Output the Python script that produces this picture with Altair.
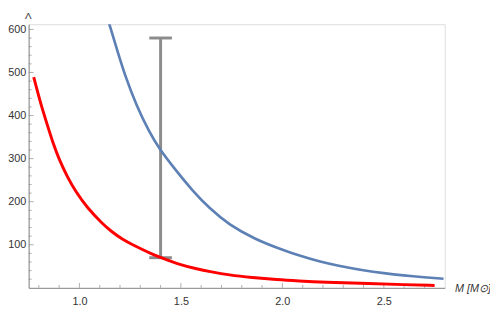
import altair as alt
import pandas as pd

# ---- data ----
red_m = [0.775, 0.806, 0.838, 0.870, 0.901, 0.94, 0.981, 1.04, 1.115, 1.16,
         1.21, 1.258, 1.306, 1.35, 1.401, 1.48, 1.576, 1.65, 1.735, 1.85,
         1.974, 2.08, 2.2, 2.436, 2.6, 2.75]
red_l = [489, 433, 384, 336, 297, 258, 224, 185, 148, 130,
         113, 101, 90, 80, 70, 56, 44, 37, 30, 24,
         19, 16, 13, 10, 7.3, 5.5]

blue_m = [1.147, 1.186, 1.226, 1.282, 1.345, 1.393, 1.473, 1.56, 1.64, 1.735,
          1.87, 1.974, 2.08, 2.19, 2.277, 2.404, 2.5, 2.595, 2.7, 2.794]
blue_l = [613, 552, 491, 422, 361, 323, 274, 224, 185, 147,
          112, 93, 75, 60, 51, 40, 34, 29, 24.5, 21]

bar_m = [1.4]
bar_lo = [70]
bar_hi = [580]

x_major = [1.0, 1.5, 2.0, 2.5]
x_minor = [0.8, 0.9, 1.1, 1.2, 1.3, 1.4, 1.6, 1.7, 1.8, 1.9,
           2.1, 2.2, 2.3, 2.4, 2.6, 2.7]
y_major = [100, 200, 300, 400, 500, 600]
y_minor = [v for v in range(20, 601, 20) if v % 100 != 0]

X_DOM = [0.75, 2.8]
Y_DOM = [0, 612]

AXIS_COLOR = "#8a8a8a"
LABEL_COLOR = "#333333"
FONT = "Liberation Sans"

red_df = pd.DataFrame({"M": red_m, "L": red_l})
blue_df = pd.DataFrame({"M": blue_m, "L": blue_l})
bar_df = pd.DataFrame({"M": bar_m, "lo": bar_lo, "hi": bar_hi})
xmaj_df = pd.DataFrame({"M": x_major, "L": [0] * len(x_major)})
xmin_df = pd.DataFrame({"M": x_minor, "L": [0] * len(x_minor)})
ymaj_df = pd.DataFrame({"M": [X_DOM[0]] * len(y_major), "L": y_major})
ymin_df = pd.DataFrame({"M": [X_DOM[0]] * len(y_minor), "L": y_minor})

xs = alt.Scale(domain=X_DOM, nice=False, zero=False)
ys = alt.Scale(domain=Y_DOM, nice=False, zero=False)

x_axis = alt.Axis(
    values=x_major, format=".1f", ticks=False, tickSize=0, grid=False,
    labelPadding=8, labelFontSize=11, labelFont=FONT, labelColor=LABEL_COLOR,
    domainColor=AXIS_COLOR, domainWidth=1,
    title="M [M⊙]", titleFont=FONT, titleFontSize=11, titleFontWeight="normal",
    titleFontStyle="italic", titleColor=LABEL_COLOR,
    titleX=433, titleY=1, titleAlign="left", titleBaseline="middle",
)
y_axis = alt.Axis(
    values=y_major, format="d", ticks=False, tickSize=0, grid=False,
    labelPadding=3, labelFontSize=11, labelFont=FONT, labelColor=LABEL_COLOR,
    domainColor=AXIS_COLOR, domainWidth=1,
    title="Λ", titleFont=FONT, titleFontSize=10, titleFontWeight="normal",
    titleColor=LABEL_COLOR, titleAngle=0, titleX=-1, titleY=-6,
    titleAlign="center", titleBaseline="alphabetic",
)

base_axes = alt.Chart(xmaj_df).mark_point(opacity=0).encode(
    x=alt.X("M:Q", scale=xs, axis=x_axis),
    y=alt.Y("L:Q", scale=ys, axis=y_axis),
)

def xticks(df, size):
    return alt.Chart(df).mark_tick(
        orient="vertical", size=size, thickness=1, color=AXIS_COLOR,
        yOffset=-size / 2,
    ).encode(x=alt.X("M:Q", scale=xs), y=alt.Y("L:Q", scale=ys))

def yticks(df, size):
    return alt.Chart(df).mark_tick(
        orient="horizontal", size=size, thickness=1, color=AXIS_COLOR,
        xOffset=size / 2,
    ).encode(x=alt.X("M:Q", scale=xs), y=alt.Y("L:Q", scale=ys))

bar_rule = alt.Chart(bar_df).mark_rule(color="#8c8c8c", strokeWidth=3).encode(
    x=alt.X("M:Q", scale=xs), y=alt.Y("lo:Q", scale=ys), y2="hi:Q"
)
cap_lo = alt.Chart(bar_df).mark_tick(
    orient="horizontal", size=23, thickness=3, color="#8c8c8c", opacity=1
).encode(x=alt.X("M:Q", scale=xs), y=alt.Y("lo:Q", scale=ys))
cap_hi = alt.Chart(bar_df).mark_tick(
    orient="horizontal", size=23, thickness=3, color="#8c8c8c", opacity=1
).encode(x=alt.X("M:Q", scale=xs), y=alt.Y("hi:Q", scale=ys))

blue_line = alt.Chart(blue_df).mark_line(
    color="#5E81B5", strokeWidth=2.7, interpolate="basis", clip=True
).encode(x=alt.X("M:Q", scale=xs), y=alt.Y("L:Q", scale=ys))
red_line = alt.Chart(red_df).mark_line(
    color="#FF0000", strokeWidth=3, interpolate="basis", clip=True
).encode(x=alt.X("M:Q", scale=xs), y=alt.Y("L:Q", scale=ys))

chart = alt.layer(
    base_axes,
    xticks(xmaj_df, 5), xticks(xmin_df, 3),
    yticks(ymaj_df, 5), yticks(ymin_df, 3),
    bar_rule, cap_lo, cap_hi,
    blue_line, red_line,
).properties(
    width=423, height=268,
    autosize=alt.AutoSizeParams(type="none"),
    padding={"left": 21, "top": 14, "right": 46, "bottom": 18},
).configure_view(stroke=None).configure(background="white")

chart.save("out.html", embed_options={"renderer": "svg", "actions": False})
